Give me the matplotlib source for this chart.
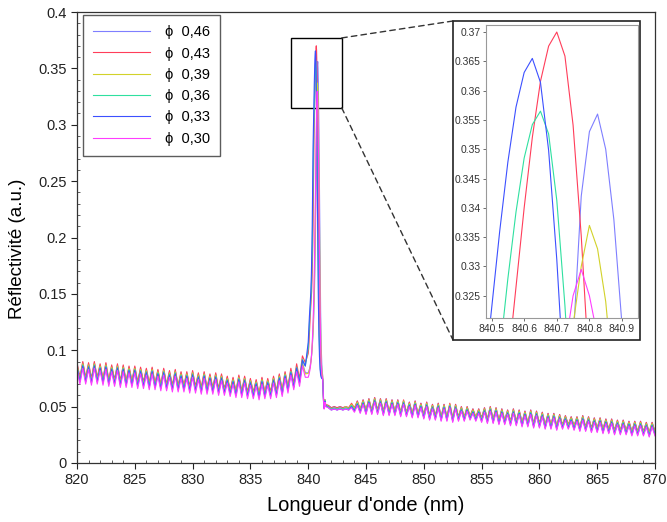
import numpy as np
import matplotlib
matplotlib.use("Agg")
import matplotlib.pyplot as plt
from matplotlib.patches import Rectangle, ConnectionPatch
from matplotlib.ticker import MultipleLocator, FuncFormatter

plt.rcParams['font.family'] = ['Liberation Sans', 'DejaVu Sans']

# ---------------- wavelength grids (nm) ----------------
wl_left = np.linspace(820.0, 839.75, 80)
wl_peak = np.linspace(840.0, 841.5, 61)
wl_right = np.linspace(841.75, 870.0, 114)

labels = ["0,46", "0,43", "0,39", "0,36", "0,33", "0,30"]
colors = ["#7f7fff", "#ff3d5a", "#d2d22a", "#2fe0a0", "#3c50ff", "#ff3cff"]

# ---------------- reflectivity, left part (x 1e-3) ----------------
r046_left = [88,75,89,75,88,74,89,75,87,74, 88,73,86,73,87,72,86,72,85,72,
             85,71,84,71,83,70,84,70,82,69, 83,69,81,68,82,68,80,68,80,67,
             81,67,79,66,80,66,78,66,79,65, 78,65,76,64,75,63,77,63,76,62,
             74,62,73,61,75,62,74,62,76,63, 78,64,80,67,82,69,85,72,89,80]
r043_left = [89,76,90,76,89,75,90,76,88,75, 89,74,87,74,88,73,87,73,86,73,
             86,72,85,72,84,71,85,71,83,70, 84,70,82,69,83,69,81,69,81,68,
             82,68,80,67,81,67,79,67,80,66, 79,66,77,65,76,64,78,64,77,63,
             75,63,74,62,76,63,75,63,77,64, 79,65,81,68,84,71,88,75,95,89]
r039_left = [87,74,88,74,87,73,88,74,86,73, 87,72,85,72,86,71,85,71,84,71,
             84,70,83,70,82,69,83,69,81,68, 82,68,80,67,81,67,79,67,79,66,
             80,66,78,65,79,65,77,65,78,64, 77,64,75,63,74,62,76,62,75,61,
             73,61,72,60,74,61,73,61,75,62, 77,63,79,66,81,68,84,71,88,79]
r036_left = [86,73,87,73,86,72,87,73,85,72, 86,71,84,71,85,70,84,70,83,70,
             83,69,82,69,81,68,82,68,80,67, 81,67,79,66,80,66,78,66,78,65,
             79,65,77,64,78,64,76,64,77,63, 76,63,74,62,73,61,75,61,74,60,
             72,60,71,59,73,60,72,60,74,61, 76,62,78,65,81,68,85,72,92,86]
r033_left = [85,72,86,72,85,71,86,72,84,71, 85,70,83,70,84,69,83,69,82,69,
             82,68,81,68,80,67,81,67,79,66, 80,66,78,65,79,65,77,65,77,64,
             78,64,76,63,77,63,75,63,76,62, 75,62,73,61,72,60,74,60,73,59,
             71,59,70,58,72,59,71,59,73,60, 75,61,77,64,80,67,84,71,91,86]
r030_left = [83,70,84,70,83,69,84,70,82,69, 83,68,81,68,82,67,81,67,80,67,
             80,66,79,66,78,65,79,65,77,64, 78,64,76,63,77,63,75,63,75,62,
             76,62,74,61,75,61,73,61,74,60, 73,60,71,59,70,58,72,58,71,57,
             69,57,68,56,70,57,69,57,71,58, 73,59,75,62,78,65,81,68,86,76]

# ---------------- reflectivity, peak part (x 1e-4) ----------------
r046_peak = [800,808,815,820,830,840,850,865,880,895,
             915,935,960,990,1025,1065,1110,1160,1220,1290,
             1370,1460,1570,1700,1850,2020,2210,2420,2650,2900,
             3170,3420,3530,3560,3500,3380,3200,2960,2680,2380,
             2080,1800,1550,1340,1170,1040,945,875,830,800,
             780,720,640,570,522,500,506,535,562,552,
             522]
r043_peak = [970,1000,1030,1075,1135,1195,1255,1300,1345,1390,
             1435,1480,1525,1600,1690,1810,1960,2140,2410,2650,
             2860,3010,3130,3265,3400,3520,3616,3676,3700,3659,
             3541,3352,3113,2836,2541,2243,1962,1709,1485,1299,
             1148,1033,945,880,836,803,782,770,762,756,
             750,705,625,562,515,494,502,532,558,548,
             518]
r039_peak = [795,800,808,815,822,832,842,855,870,890,
             910,935,965,1000,1040,1085,1135,1195,1265,1345,
             1440,1550,1680,1830,2000,2190,2400,2620,2840,3040,
             3200,3300,3370,3330,3240,3090,2880,2630,2360,2080,
             1810,1560,1350,1180,1045,945,875,828,798,780,
             770,712,632,566,518,497,504,533,560,550,
             520]
r036_peak = [1015,1058,1115,1173,1230,1273,1316,1359,1402,1445,
             1488,1560,1645,1760,1903,2075,2333,2562,2763,2906,
             3021,3150,3279,3393,3485,3542,3565,3526,3413,3233,
             3005,2740,2459,2174,1907,1665,1451,1274,1130,1020,
             936,874,832,801,781,768,760,754,750,747,
             742,692,612,552,507,487,497,527,552,542,
             512]
r033_peak = [1069,1128,1188,1247,1291,1335,1380,1424,1468,1513,
             1587,1675,1793,1941,2118,2384,2621,2828,2975,3094,
             3227,3360,3478,3572,3631,3655,3614,3498,3312,3077,
             2804,2513,2220,1944,1694,1473,1290,1142,1029,942,
             878,834,802,782,770,760,755,750,748,745,
             740,690,610,550,505,485,495,525,550,540,
             510]
r030_peak = [760,768,776,786,798,810,825,842,862,885,
             910,940,975,1015,1065,1120,1185,1260,1345,1445,
             1560,1690,1840,2010,2200,2400,2610,2820,3010,3160,
             3250,3295,3250,3180,3060,2880,2650,2390,2110,1840,
             1590,1370,1190,1050,945,872,822,790,772,760,
             752,695,612,548,500,478,486,515,540,530,
             500]

# ---------------- reflectivity, right part (x 1e-3) ----------------
r046_right = [51,49,50,49,50,49,50,49,52,48, 55,47,56,47,57,46,58,47,57,46,
              57,45,56,46,56,45,55,44,54,44, 55,43,53,43,54,42,52,42,53,41,
              52,41,52,40,52,40,50,40,50,41, 48,40,48,40,49,39,50,39,49,38,
              48,38,47,37,48,37,47,36,46,35, 47,35,46,35,45,34,44,34,44,33,
              43,33,42,34,41,33,41,32,42,32, 41,31,40,31,40,30,39,30,39,29,
              38,29,38,29,37,28,37,28,37,28, 36,27,36,28]
r043_right = [51,49,50,49,50,49,50,49,53,49, 55,48,56,47,57,47,58,47,57,46,
              57,46,56,46,56,45,56,45,54,44, 55,44,53,43,54,42,52,42,53,41,
              52,41,53,40,52,41,50,41,50,42, 48,41,48,40,49,39,50,39,49,38,
              48,38,47,37,48,37,47,36,46,36, 47,35,46,35,45,34,44,34,44,33,
              43,34,42,34,41,33,41,32,42,32, 41,31,40,31,40,30,39,30,39,29,
              38,29,38,29,37,28,37,28,37,28, 36,27,36,28]
r039_right = [50,48,49,48,49,48,50,48,52,48, 54,47,55,46,56,46,57,46,56,45,
              56,45,55,45,55,44,55,44,53,43, 54,43,52,42,53,41,51,41,52,40,
              51,40,52,39,51,40,49,40,49,41, 47,40,47,39,48,38,49,38,48,37,
              47,37,46,36,47,36,46,35,45,35, 46,34,45,34,44,33,43,33,43,32,
              42,33,41,33,40,32,40,31,41,31, 40,30,39,30,39,29,38,29,38,28,
              37,28,37,28,36,27,36,27,36,27, 35,26,35,27]
r036_right = [50,48,49,48,49,48,49,48,51,47, 53,46,54,45,55,45,56,45,55,44,
              55,44,54,44,54,43,54,43,52,42, 53,42,51,41,52,40,50,40,51,39,
              50,39,51,38,50,39,48,39,48,40, 46,39,46,38,47,37,48,37,47,36,
              46,36,45,35,46,35,45,34,44,34, 45,33,44,33,43,32,42,32,42,31,
              41,32,40,32,39,31,39,30,40,30, 39,29,38,29,38,28,37,28,37,27,
              36,27,36,27,35,26,35,26,35,26, 34,25,34,26]
r033_right = [49,47,48,47,48,47,48,47,50,46, 52,45,53,44,54,44,55,44,54,43,
              54,43,53,43,53,42,53,42,51,41, 52,41,50,40,51,39,49,39,50,38,
              49,38,50,37,49,38,47,38,47,39, 45,38,45,37,46,36,47,36,46,35,
              45,35,44,34,45,34,44,33,43,33, 44,32,43,32,42,31,41,31,41,30,
              40,31,39,31,38,30,38,29,39,29, 38,28,37,28,37,27,36,27,36,26,
              35,26,35,26,34,25,34,25,34,25, 33,24,33,25]
r030_right = [49,47,48,47,48,47,48,47,49,45, 51,44,52,43,53,43,54,43,53,42,
              53,42,52,42,52,41,52,41,50,40, 51,40,49,39,50,38,48,38,49,37,
              48,37,49,36,48,37,46,37,46,38, 44,37,44,36,45,35,46,35,45,34,
              44,34,43,33,44,33,43,32,42,32, 43,31,42,31,41,30,40,30,40,29,
              39,30,38,30,37,29,37,28,38,28, 37,27,36,27,36,26,35,26,35,25,
              34,25,34,25,33,24,33,24,33,24, 32,23,32,24]

left_parts = [r046_left, r043_left, r039_left, r036_left, r033_left, r030_left]
peak_parts = [r046_peak, r043_peak, r039_peak, r036_peak, r033_peak, r030_peak]
right_parts = [r046_right, r043_right, r039_right, r036_right, r033_right, r030_right]

wl = np.concatenate([wl_left, wl_peak, wl_right])
series = [np.concatenate([np.array(a) * 1e-3, np.array(b) * 1e-4, np.array(c) * 1e-3])
          for a, b, c in zip(left_parts, peak_parts, right_parts)]

# ---------------- figure ----------------
W, H = 667, 522
fig = plt.figure(figsize=(W / 100, H / 100), dpi=100)
fig.patch.set_facecolor("white")

ax = fig.add_axes([77 / W, 59 / H, 578 / W, 451 / H])
for y, lab, col in zip(series, labels, colors):
    ax.plot(wl, y, color=col, lw=0.8, label="ϕ  " + lab)

ax.set_xlim(820, 870)
ax.set_ylim(0, 0.4)
ax.xaxis.set_major_locator(MultipleLocator(5))
ax.xaxis.set_minor_locator(MultipleLocator(1))
ax.yaxis.set_major_locator(MultipleLocator(0.05))
ax.yaxis.set_minor_locator(MultipleLocator(0.01))
gfmt = FuncFormatter(lambda v, p: "%g" % round(v, 4))
ax.xaxis.set_major_formatter(gfmt)
ax.yaxis.set_major_formatter(gfmt)
ax.tick_params(which="major", direction="out", length=4, width=0.8, labelsize=10.5, colors="#222222")
ax.tick_params(which="minor", direction="in", length=2, width=0.6, colors="#444444")
for s in ax.spines.values():
    s.set_linewidth(0.9)
    s.set_color("#333333")
ax.set_xlabel("Longueur d'onde (nm)", fontsize=14.5, labelpad=6)
ax.set_ylabel("Réflectivité (a.u.)", fontsize=13.5)
ax.yaxis.set_label_coords(-0.088, 0.474)

leg = ax.legend(loc="upper left", bbox_to_anchor=(6 / 578, 1 - 3 / 451), frameon=True,
                fancybox=False, edgecolor="#333333", fontsize=10.5, handlelength=3.9,
                handletextpad=1.0, labelspacing=0.5, borderpad=0.7, borderaxespad=0)
leg.get_frame().set_linewidth(1.0)

# zoom rectangle on the main axes
ax.add_patch(Rectangle((838.5, 0.315), 4.4, 0.062, fill=False, ec="black", lw=1.0))

# inset frame and inset axes
frame = Rectangle((453 / W, (H - 340) / H), 187 / W, 319 / H, transform=fig.transFigure,
                  fill=True, fc="white", ec="#222222", lw=1.2, zorder=2)
fig.add_artist(frame)
axin = fig.add_axes([486 / W, (H - 318) / H, 152 / W, 293 / H], zorder=3)
for y, col in zip(series, colors):
    axin.plot(wl, y, color=col, lw=0.8)
axin.set_xlim(840.483, 840.949)
axin.set_ylim(0.3212, 0.3712)
axin.set_xticks([840.5, 840.6, 840.7, 840.8, 840.9])
axin.set_yticks([0.325, 0.33, 0.335, 0.34, 0.345, 0.35, 0.355, 0.36, 0.365, 0.37])
axin.xaxis.set_major_formatter(gfmt)
axin.yaxis.set_major_formatter(gfmt)
axin.tick_params(labelsize=7.5, length=2, width=0.5, colors="#333333", pad=2)
for s in axin.spines.values():
    s.set_linewidth(0.8)
    s.set_color("#999999")

# dashed connectors
for ya, yb in [(0.377, (H - 21) / H), (0.315, (H - 340) / H)]:
    con = ConnectionPatch(xyA=(842.9, ya), coordsA=ax.transData,
                          xyB=(453 / W, yb), coordsB=fig.transFigure,
                          linestyle=(0, (4, 3)), color="#333333", lw=1.0)
    fig.add_artist(con)

fig.savefig("out.png", dpi=100)
